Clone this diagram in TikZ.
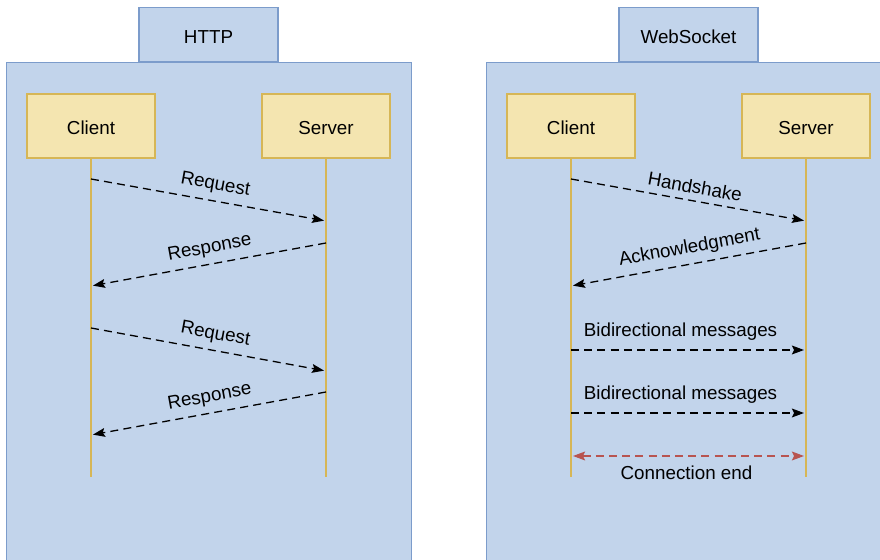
\documentclass[tikz,border=0pt]{standalone}
\usepackage{fontspec}
\setmainfont{Liberation Sans}
\usetikzlibrary{arrows.meta}

\begin{document}
\begin{tikzpicture}[x=0.5pt, y=-0.5pt,
		font=\fontsize{9.4}{11}\selectfont,
		panel/.style={draw=panelline, fill=panelfill, line width=0.6pt, anchor=north west,
			minimum width=202.5pt, minimum height=260pt, inner sep=0pt},
		tab/.style={draw=panelline, fill=panelfill, line width=0.6pt, anchor=south,
			minimum width=69.5pt, minimum height=27pt, inner sep=0pt,
			text height=9.6pt, text depth=0pt},
		actor/.style={draw=actorline, fill=actorfill, line width=0.6pt,
			minimum width=64pt, minimum height=32pt, inner sep=0pt,
			text height=8.8pt, text depth=0pt},
		lifeline/.style={draw=actorline, line width=0.7pt},
		msg/.style={line width=0.65pt, dash pattern=on 4pt off 2.6pt, shorten >=1pt,
			-{Stealth[length=6pt, width=4.4pt, inset=1pt]}},
		endmsg/.style={msg, draw=endcol, shorten <=1pt,
			{Stealth[length=6pt, width=4.4pt, inset=1pt]}-{Stealth[length=6pt, width=4.4pt, inset=1pt]}}]
		
		\definecolor{panelfill}{HTML}{C2D4EB}
		\definecolor{panelline}{HTML}{7C9CCB}
		\definecolor{actorfill}{HTML}{F4E5B0}
		\definecolor{actorline}{HTML}{D6B656}
		\definecolor{endcol}{HTML}{B85450}
		
		\useasboundingbox (0,0) rectangle (880,560);
		\clip (0,0) rectangle (880,560);
		
		% HTTP panel
		\node[panel] (httppanel) at (6,62) {};
		\node[tab] (httptab) at (208.5,62) {HTTP};
		\node[actor] (hclient) at (91,126) {Client};
		\node[actor] (hserver) at (326,126) {Server};
		
		% WebSocket panel
		\node[panel] (wspanel) at (486,62) {};
		\node[tab] (wstab) at (688.5,62) {WebSocket};
		\node[actor] (wclient) at (571,126) {Client};
		\node[actor] (wserver) at (806,126) {Server};
		
		% Lifelines
		\coordinate (hcend) at (91,477);
		\coordinate (hsend) at (326,477);
		\coordinate (wcend) at (571,477);
		\coordinate (wsend) at (806,477);
		\draw[lifeline] (hclient.south) -- (hcend);
		\draw[lifeline] (hserver.south) -- (hsend);
		\draw[lifeline] (wclient.south) -- (wcend);
		\draw[lifeline] (wserver.south) -- (wsend);
		
		% HTTP messages
		\coordinate (hc1) at (91,179);  \coordinate (hs1) at (326,221);
		\coordinate (hs2) at (326,243); \coordinate (hc2) at (91,286);
		\coordinate (hc3) at (91,328);  \coordinate (hs3) at (326,371);
		\coordinate (hs4) at (326,392); \coordinate (hc4) at (91,435);
		\draw[msg] (hc1) -- node[pos=0.517, above, sloped] {Request} (hs1);
		\draw[msg] (hs2) -- node[pos=0.483, above, sloped] {Response} (hc2);
		\draw[msg] (hc3) -- node[pos=0.517, above, sloped] {Request} (hs3);
		\draw[msg] (hs4) -- node[pos=0.483, above, sloped] {Response} (hc4);
		
		% WebSocket messages
		\coordinate (wc1) at (571,179); \coordinate (ws1) at (806,221);
		\coordinate (ws2) at (806,243); \coordinate (wc2) at (571,286);
		\coordinate (wc3) at (571,350); \coordinate (ws3) at (806,350);
		\coordinate (wc4) at (571,413); \coordinate (ws4) at (806,413);
		\coordinate (wc5) at (571,456); \coordinate (ws5) at (806,456);
		\draw[msg] (wc1) -- node[pos=0.517, above, sloped] {Handshake} (ws1);
		\draw[msg] (ws2) -- node[pos=0.483, above, sloped] {Acknowledgment} (wc2);
		\draw[msg] (wc3) -- node[midway, above, xshift=-4pt, yshift=1pt] {Bidirectional messages} (ws3);
		\draw[msg] (wc4) -- node[midway, above, xshift=-4pt, yshift=1pt] {Bidirectional messages} (ws4);
		\draw[endmsg] (wc5) -- node[midway, below, xshift=-1pt, yshift=-1.5pt] {Connection end} (ws5);
		
	\end{tikzpicture}
\end{document}
